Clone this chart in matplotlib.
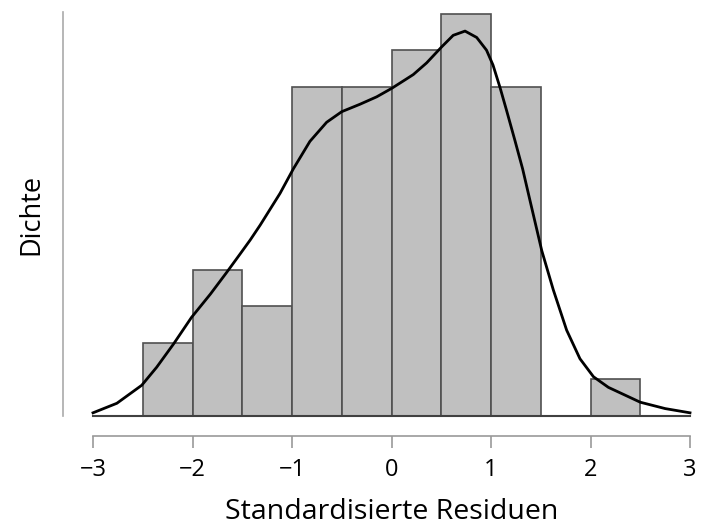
import numpy as np
import matplotlib
matplotlib.use('Agg')
import matplotlib.pyplot as plt

plt.rcParams['font.family'] = ['Open Sans', 'DejaVu Sans']

# histogram of standardized residuals (counts per 0.5-wide bin)
bin_edges = [-2.5, -2.0, -1.5, -1.0, -0.5, 0.0, 0.5, 1.0, 1.5, 2.0, 2.5]
counts = [2, 4, 3, 9, 9, 10, 11, 9, 0, 1]

# kernel density estimate
kde_x = [-3.0, -2.76, -2.51, -2.36, -2.19, -2.01, -1.82, -1.66, -1.52, -1.42,
         -1.32, -1.12, -0.987, -0.82, -0.652, -0.50, -0.317, -0.149, 0.002, 0.136,
         0.219, 0.353, 0.503, 0.62, 0.739, 0.856, 0.955, 1.02, 1.09, 1.157,
         1.24, 1.318, 1.39, 1.51, 1.626, 1.76, 1.894, 2.03, 2.18, 2.5,
         2.75, 3.0]
kde_y = [0.003, 0.012, 0.029, 0.046, 0.068, 0.093, 0.115, 0.135, 0.153, 0.166,
         0.180, 0.210, 0.233, 0.259, 0.277, 0.287, 0.294, 0.301, 0.309, 0.317,
         0.322, 0.333, 0.348, 0.359, 0.363, 0.357, 0.345, 0.331, 0.310, 0.288,
         0.260, 0.233, 0.204, 0.156, 0.119, 0.081, 0.054, 0.037, 0.027, 0.013,
         0.007, 0.003]

xticks = [-3, -2, -1, 0, 1, 2, 3]

W, H = 714, 529
fig = plt.figure(figsize=(W / 100, H / 100), dpi=100)
ax = fig.add_axes([93 / W, 1 - 416 / H, (690 - 93) / W, (416 - 12) / H])

edges = np.array(bin_edges)
widths = np.diff(edges)
dens = np.array(counts) / (sum(counts) * widths)
ax.bar(edges[:-1], dens, width=widths, align='edge',
       color='#c0c0c0', edgecolor='#505050', linewidth=1.2, zorder=2)
ax.plot([-3, 3], [0, 0], color='#404040', lw=1.5, zorder=3, clip_on=False)
ax.plot(kde_x, kde_y, color='black', lw=2, zorder=4, clip_on=False,
        solid_joinstyle='round')

ax.set_xlim(-3, 3)
ax.set_ylim(0, 0.381)

for s in ['top', 'right']:
    ax.spines[s].set_visible(False)
ax.spines['bottom'].set_position(('outward', 14.4))
ax.spines['left'].set_position(('outward', 21.6))
ax.spines['bottom'].set_color('#999999')
ax.spines['left'].set_color('#aaaaaa')
ax.spines['bottom'].set_linewidth(1.2)
ax.spines['left'].set_linewidth(1.2)

ax.set_xticks(xticks)
ax.set_xticklabels([str(t).replace('-', '\u2212') for t in xticks])
ax.tick_params(axis='x', direction='out', length=8.6, width=1.2,
               color='#999999', labelsize=17, pad=7)
ax.set_yticks([])

ax.set_xlabel('Standardisierte Residuen', fontsize=20.5, labelpad=12)
ax.set_ylabel('Dichte', fontsize=19.5, labelpad=13)

fig.savefig('out.png', dpi=100)
